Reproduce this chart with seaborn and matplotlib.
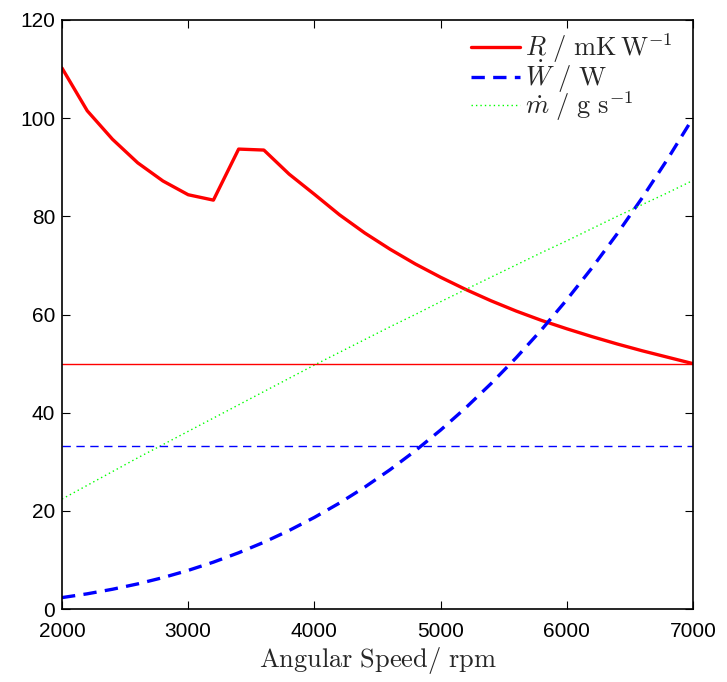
import pandas as pd
import matplotlib
matplotlib.use("Agg")
import matplotlib.pyplot as plt
import seaborn as sns

# angular speed grid (rpm)
speed = [2000, 2200, 2400, 2600, 2800, 3000, 3200, 3400, 3600, 3800,
         4000, 4200, 4400, 4600, 4800, 5000, 5200, 5400, 5600, 5800,
         6000, 6200, 6400, 6600, 6800, 7000]
# R / mK W^-1
resistance = [110.2, 101.5, 95.7, 90.9, 87.2, 84.4, 83.3, 93.7, 93.5, 88.6,
              84.5, 80.3, 76.6, 73.3, 70.3, 67.6, 65.1, 62.8, 60.7, 58.8,
              57.1, 55.5, 54.0, 52.6, 51.3, 50.0]
# W dot / W
power = [2.33, 3.10, 4.03, 5.12, 6.40, 7.87, 9.55, 11.46, 13.60, 16.00,
         18.66, 21.60, 24.84, 28.38, 32.24, 36.44, 40.99, 45.91, 51.20, 56.88,
         62.97, 69.48, 76.43, 83.82, 91.67, 100.0]
# m dot / g s^-1
mass_flow = [22.4, 25.2, 28.0, 30.8, 33.5, 36.2, 38.9, 41.6, 44.3, 47.0,
             49.7, 52.3, 54.9, 57.5, 60.0, 62.6, 65.1, 67.6, 70.1, 72.6,
             75.0, 77.5, 80.0, 82.4, 84.8, 87.3]
r_limit = 50.0
w_limit = 33.3

sns.set_theme(style="white")
plt.rcParams["font.family"] = ["Liberation Sans", "DejaVu Sans"]
plt.rcParams["mathtext.fontset"] = "cm"

df = pd.DataFrame({"speed": speed, "R": resistance, "W": power, "m": mass_flow})

fig = plt.figure(figsize=(7.27, 6.82), dpi=100)
ax = fig.add_axes([0.0853, 0.107, 0.8677, 0.8637])

sns.lineplot(data=df, x="speed", y="R", ax=ax, color="#ff0000", lw=2.4,
             label=r"$R\ /\ \mathrm{mK\,W^{-1}}$")
sns.lineplot(data=df, x="speed", y="W", ax=ax, color="#0000ff", lw=2.4,
             label=r"$\dot{W}\ /\ \mathrm{W}$")
sns.lineplot(data=df, x="speed", y="m", ax=ax, color="#00ff00", lw=1.0,
             label=r"$\dot{m}\ /\ \mathrm{g\ s^{-1}}$")
ax.lines[1].set_dashes([4, 2.5])
ax.lines[2].set_dashes([1, 2.2])

ax.axhline(r_limit, color="#ff0000", lw=1.0)
ax.axhline(w_limit, color="#0000ff", lw=1.0, dashes=[6, 4])

ax.set_xlim(2000, 7000)
ax.set_ylim(0, 120)
ax.set_xticks(range(2000, 7001, 1000))
ax.set_yticks(range(0, 121, 20))
ax.tick_params(direction="in", length=6, width=0.8, labelsize=15,
               top=True, right=True, bottom=True, left=True, colors="black")
ax.tick_params(axis="x", pad=9)
ax.tick_params(axis="y", pad=5)
for s in ax.spines.values():
    s.set_linewidth(1.2)
    s.set_color("black")

ax.set_xlabel(r"$\mathrm{Angular\ Speed/\ rpm}$", fontsize=19, labelpad=3)
ax.set_ylabel("")

leg = ax.legend(loc="upper right", bbox_to_anchor=(0.972, 0.985),
                frameon=False, fontsize=19,
                handlelength=1.85, handletextpad=0.2, labelspacing=-0.24,
                borderaxespad=0, borderpad=0.1)

fig.savefig("out.png", dpi=100)
